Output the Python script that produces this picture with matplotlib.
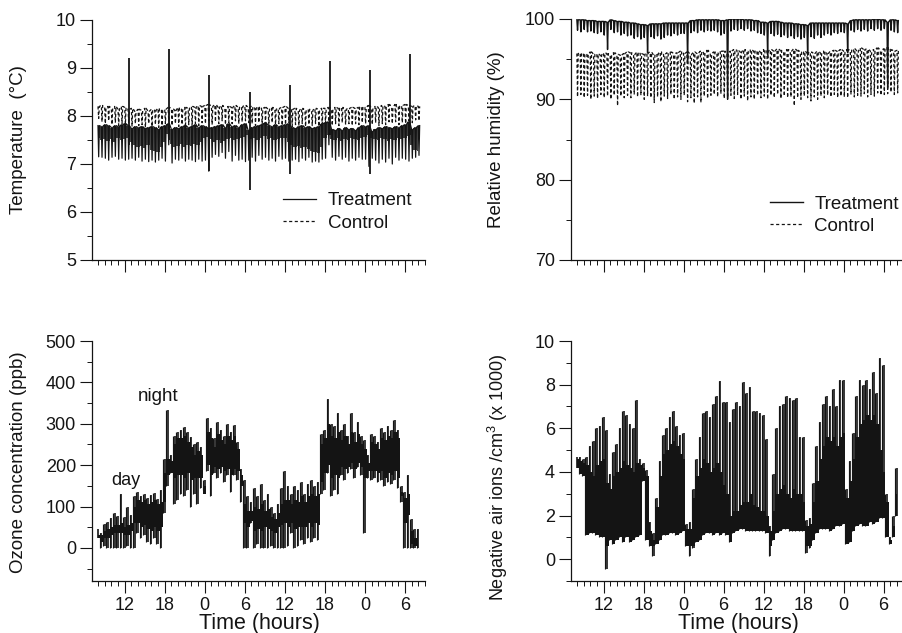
# Four panel time series: temperature, humidity, ozone and negative air ions.
# Values every half hour, as upper and lower edges.

import numpy as np
import matplotlib
matplotlib.use("Agg")
import matplotlib.pyplot as plt
from matplotlib.ticker import MultipleLocator, FixedLocator, NullFormatter

plt.rcParams["font.family"] = ["Liberation Sans", "DejaVu Sans"]
plt.rcParams["mathtext.default"] = "regular"

INK = "#141414"

hours = np.arange(8, 56.5, 0.5)
hour_ticks = [12, 18, 24, 30, 36, 42, 48, 54]
hour_labels = ["12", "18", "0", "6", "12", "18", "0", "6"]

# Temperature, treatment
temp_treat_hi = [
    7.80, 7.78, 7.82, 7.80, 7.76, 7.80, 7.78, 7.82,
    7.84, 7.80, 7.74, 7.78, 7.76, 7.78, 7.74, 7.76, 7.78, 7.76, 7.72, 7.78,
    7.80, 7.84, 7.72, 7.76, 7.74, 7.78, 7.80, 7.76, 7.78, 7.82, 7.76, 7.80,
    7.78, 7.74, 7.76, 7.78, 7.80, 7.82, 7.76, 7.84, 7.78, 7.80, 7.76, 7.82,
    7.84, 7.70, 7.76, 7.78, 7.80, 7.82, 7.86, 7.80, 7.78, 7.82, 7.78, 7.80,
    7.82, 7.84, 7.76, 7.74, 7.78, 7.80, 7.76, 7.78, 7.74, 7.76, 7.78, 7.84,
    7.86, 7.88, 7.72, 7.70, 7.74, 7.70, 7.76, 7.72, 7.74, 7.70, 7.76, 7.80,
    7.78, 7.80, 7.68, 7.72, 7.76, 7.74, 7.78, 7.76, 7.74, 7.78, 7.76, 7.80,
    7.82, 7.88, 7.72, 7.76, 7.80]
temp_treat_core = [
    7.55, 7.50, 7.52, 7.48, 7.52, 7.46, 7.54, 7.50,
    7.52, 7.54, 7.46, 7.40, 7.35, 7.38, 7.34, 7.40, 7.30, 7.28, 7.25, 7.35,
    7.45, 7.62, 7.42, 7.35, 7.38, 7.42, 7.36, 7.40, 7.38, 7.42, 7.40, 7.45,
    7.54, 7.56, 7.52, 7.46, 7.50, 7.44, 7.48, 7.52, 7.54, 7.50, 7.52, 7.54,
    7.56, 7.60, 7.52, 7.54, 7.50, 7.54, 7.58, 7.52, 7.54, 7.50, 7.52, 7.54,
    7.54, 7.46, 7.40, 7.36, 7.38, 7.34, 7.36, 7.32, 7.28, 7.26, 7.22, 7.35,
    7.54, 7.60, 7.52, 7.50, 7.54, 7.48, 7.52, 7.50, 7.54, 7.52, 7.50, 7.54,
    7.56, 7.60, 7.54, 7.52, 7.50, 7.54, 7.52, 7.48, 7.52, 7.50, 7.54, 7.52,
    7.54, 7.58, 7.40, 7.30, 7.28]
temp_treat_lo = [
    7.15, 7.14, 7.12, 7.08, 7.14, 7.16, 7.10, 7.12,
    7.08, 7.10, 7.12, 7.08, 7.14, 7.06, 7.10, 7.05, 7.08, 7.04, 7.08, 7.12,
    7.06, 7.40, 7.02, 7.10, 7.08, 7.12, 7.06, 7.10, 7.08, 7.05, 7.10, 7.06,
    7.08, 6.85, 7.14, 7.20, 7.16, 7.24, 7.12, 7.26, 7.06, 7.18, 7.08, 7.10,
    7.05, 7.08, 7.14, 7.06, 7.18, 7.10, 7.14, 7.08, 7.12, 7.06, 7.16, 7.10,
    7.12, 7.06, 7.08, 7.10, 7.05, 7.12, 7.08, 7.14, 7.04, 7.06, 7.04, 7.10,
    7.12, 7.40, 7.14, 7.08, 7.16, 7.10, 7.14, 7.06, 7.12, 7.08, 7.14, 7.10,
    7.10, 6.95, 7.12, 7.08, 7.02, 7.10, 7.04, 7.12, 7.00, 7.14, 7.08, 7.12,
    7.10, 7.06, 7.12, 7.14, 7.18]
temp_spike_t = [12.7, 18.7, 24.65, 30.75, 36.75, 42.8, 48.7, 54.7]
temp_spike_hi = [9.2, 9.4, 8.85, 8.5, 8.65, 9.15, 8.95, 9.3]
temp_spike_lo = [7.4, 7.5, 6.85, 6.45, 6.8, 7.6, 6.8, 7.6]

# Temperature, control
temp_ctrl_hi = [
    8.20, 8.22, 8.18, 8.20, 8.16, 8.20, 8.14, 8.20,
    8.18, 8.14, 8.16, 8.10, 8.14, 8.12, 8.16, 8.10, 8.14, 8.12, 8.16, 8.12,
    8.14, 8.18, 8.16, 8.12, 8.18, 8.14, 8.18, 8.16, 8.20, 8.18, 8.22, 8.20,
    8.22, 8.24, 8.20, 8.24, 8.18, 8.22, 8.16, 8.20, 8.18, 8.22, 8.18, 8.20,
    8.22, 8.18, 8.20, 8.16, 8.20, 8.16, 8.18, 8.14, 8.18, 8.14, 8.16, 8.18,
    8.20, 8.16, 8.14, 8.16, 8.12, 8.16, 8.12, 8.14, 8.12, 8.16, 8.14, 8.16,
    8.16, 8.18, 8.14, 8.18, 8.16, 8.18, 8.14, 8.16, 8.18, 8.16, 8.18, 8.20,
    8.18, 8.22, 8.16, 8.20, 8.18, 8.22, 8.20, 8.24, 8.18, 8.24, 8.20, 8.22,
    8.24, 8.22, 8.20, 8.22, 8.20]
temp_ctrl_lo = [
    7.95, 7.88, 7.84, 7.90, 7.82, 7.86, 7.80, 7.84,
    7.82, 7.86, 7.78, 7.84, 7.80, 7.82, 7.76, 7.84, 7.78, 7.82, 7.76, 7.80,
    7.84, 7.90, 7.80, 7.84, 7.78, 7.82, 7.76, 7.82, 7.78, 7.84, 7.80, 7.86,
    7.84, 7.90, 7.82, 7.88, 7.84, 7.90, 7.82, 7.86, 7.84, 7.90, 7.84, 7.88,
    7.90, 7.86, 7.84, 7.80, 7.86, 7.82, 7.84, 7.80, 7.86, 7.82, 7.84, 7.80,
    7.82, 7.86, 7.78, 7.82, 7.80, 7.84, 7.78, 7.82, 7.80, 7.84, 7.78, 7.82,
    7.84, 7.88, 7.80, 7.84, 7.80, 7.86, 7.82, 7.84, 7.80, 7.84, 7.82, 7.86,
    7.84, 7.88, 7.82, 7.86, 7.80, 7.84, 7.82, 7.88, 7.84, 7.88, 7.82, 7.86,
    7.84, 7.90, 7.86, 7.92, 7.90]

# Relative humidity, treatment
rh_treat_hi = [
    99.9, 99.9, 99.9, 99.8, 99.8, 99.8, 99.7, 99.7,
    99.7, 99.6, 99.9, 99.8, 99.7, 99.7, 99.6, 99.6, 99.5, 99.5, 99.4, 99.3,
    99.3, 99.2, 99.4, 99.4, 99.4, 99.4, 99.5, 99.5, 99.5, 99.5, 99.5, 99.5,
    99.5, 99.5, 99.8, 99.8, 99.9, 99.9, 99.9, 99.9, 99.9, 99.9, 99.9, 99.8,
    99.8, 99.9, 100.0, 100.0, 100.0, 100.0, 99.9, 99.9, 99.9, 99.8, 99.8, 99.6,
    99.6, 99.5, 99.7, 99.7, 99.7, 99.6, 99.5, 99.5, 99.5, 99.4, 99.4, 99.3,
    99.3, 99.2, 99.5, 99.5, 99.5, 99.5, 99.5, 99.5, 99.5, 99.5, 99.5, 99.5,
    99.5, 99.4, 99.8, 99.9, 99.9, 99.9, 99.9, 99.9, 99.9, 100.0, 100.0, 99.9,
    99.9, 99.6, 99.9, 99.9, 99.8]
rh_treat_lo = [
    98.6, 98.4, 98.7, 98.4, 98.5, 98.3, 98.2, 98.4,
    98.0, 96.2, 98.7, 98.3, 98.4, 98.0, 98.2, 97.9, 98.0, 97.6, 97.8, 97.5,
    97.7, 95.8, 97.8, 97.6, 97.9, 97.5, 97.7, 98.0, 97.9, 98.2, 98.0, 98.2,
    98.2, 94.8, 98.3, 98.5, 98.3, 98.6, 98.4, 98.6, 98.5, 98.6, 98.4, 98.0,
    98.2, 90.0, 98.5, 98.7, 98.6, 98.8, 98.6, 98.8, 98.5, 98.6, 98.3, 98.2,
    98.0, 95.5, 98.2, 97.9, 98.1, 97.8, 98.0, 97.7, 97.9, 97.6, 97.8, 97.5,
    97.7, 95.5, 97.8, 97.6, 98.0, 97.7, 98.0, 98.2, 98.0, 98.3, 98.2, 98.4,
    98.3, 95.8, 98.6, 98.4, 98.7, 98.5, 98.7, 98.5, 98.8, 98.6, 98.8, 98.6,
    98.8, 91.5, 98.6, 98.4, 98.3]

# Relative humidity, control
rh_ctrl_hi = [
    95.7, 95.8, 95.6, 95.7, 95.9, 95.6, 95.7, 95.5,
    95.8, 95.7, 95.5, 95.8, 95.6, 95.5, 95.7, 95.9, 95.8, 95.6, 95.9, 95.7,
    95.6, 95.8, 95.9, 95.5, 95.7, 95.9, 95.6, 95.8, 95.9, 95.7, 95.8, 96.0,
    95.7, 95.9, 95.6, 95.9, 95.7, 96.0, 95.8, 96.1, 95.7, 95.9, 95.8, 96.0,
    96.0, 95.8, 96.0, 96.2, 96.1, 95.9, 96.2, 96.0, 96.2, 96.0, 96.1, 95.9,
    96.2, 96.0, 96.2, 96.0, 96.3, 96.1, 95.9, 96.2, 96.0, 96.3, 96.1, 95.9,
    96.0, 95.8, 95.9, 95.7, 96.0, 95.8, 96.0, 95.7, 96.0, 96.1, 96.0, 96.2,
    96.0, 96.2, 96.1, 96.3, 96.0, 96.4, 96.2, 96.3, 96.0, 96.2, 96.4, 96.1,
    96.3, 96.5, 96.2, 96.0, 96.1]
rh_ctrl_lo = [
    90.3, 90.6, 90.2, 90.5, 90.0, 90.4, 90.1, 90.6,
    90.2, 90.4, 90.0, 90.5, 89.2, 90.4, 90.2, 90.5, 90.2, 90.6, 90.3, 90.5,
    90.0, 90.4, 90.2, 89.6, 90.3, 89.7, 90.4, 90.1, 90.6, 90.0, 90.3, 90.0,
    90.5, 89.7, 90.2, 89.5, 90.3, 89.6, 90.4, 90.1, 90.5, 90.6, 90.3, 90.7,
    90.1, 90.2, 90.5, 90.1, 90.6, 90.0, 90.4, 89.8, 90.3, 90.0, 90.5, 90.2,
    90.4, 90.0, 90.5, 90.2, 90.6, 90.1, 90.4, 90.2, 90.3, 89.2, 90.2, 90.0,
    90.4, 90.2, 89.8, 90.3, 90.0, 90.4, 90.2, 90.5, 90.3, 90.6, 90.2, 90.4,
    90.3, 90.2, 90.6, 90.3, 90.5, 90.4, 90.7, 90.3, 90.6, 90.4, 90.8, 90.5,
    90.6, 90.7, 90.9, 90.6, 90.8]

# Ozone concentration, outer edges and the solid band inside them
ozone_hi = [
    45, 35, 58, 62, 72, 85, 78, 130,
    75, 100, 80, 125, 135, 125, 130, 120, 128, 132, 118, 140,
    215, 333, 225, 270, 280, 285, 292, 280, 268, 250, 255, 245,
    140, 315, 290, 265, 305, 285, 270, 300, 280, 298, 255, 190,
    165, 125, 110, 145, 125, 155, 115, 130, 100, 85, 105, 145,
    185, 150, 130, 150, 140, 160, 130, 155, 165, 150, 160, 275,
    285, 360, 300, 295, 325, 285, 300, 270, 325, 280, 305, 270,
    260, 225, 275, 270, 255, 290, 280, 295, 285, 310, 285, 150,
    135, 175, 70, 45, 45]
ozone_lo = [
    25, 0, 5, 0, 0, 0, 0, 0,
    0, 5, 0, 0, 35, 25, 30, 15, 10, 25, 10, 0,
    85, 150, 180, 105, 115, 130, 125, 140, 100, 130, 105, 145,
    165, 185, 125, 180, 170, 180, 160, 175, 135, 175, 165, 110,
    0, 0, 60, 0, 10, 0, 0, 0, 5, 0, 0, 0,
    0, 5, 35, 0, 5, 20, 10, 25, 15, 25, 20, 130,
    140, 180, 125, 140, 130, 175, 165, 180, 190, 170, 195, 175,
    35, 170, 165, 170, 160, 165, 150, 160, 155, 165, 145, 110,
    0, 0, 0, 0, 0]
ozone_band_hi = [
    30, 30, 40, 45, 50, 55, 55, 60,
    50, 55, 60, 100, 115, 110, 115, 105, 110, 115, 105, 110,
    180, 215, 210, 250, 265, 265, 270, 255, 245, 225, 235, 225,
    130, 280, 265, 245, 275, 260, 250, 270, 260, 270, 240, 175,
    105, 90, 90, 100, 95, 105, 90, 95, 75, 70, 85, 105,
    115, 115, 105, 115, 110, 125, 110, 125, 130, 125, 130, 250,
    265, 300, 270, 265, 280, 260, 270, 250, 280, 255, 275, 250,
    240, 205, 255, 250, 240, 265, 260, 270, 265, 280, 265, 135,
    120, 130, 40, 25, 30]
ozone_band_lo = [
    25, 15, 25, 25, 30, 35, 35, 35,
    30, 30, 40, 60, 60, 50, 55, 45, 40, 50, 40, 50,
    110, 175, 180, 170, 175, 175, 170, 180, 165, 170, 170, 170,
    150, 200, 175, 195, 190, 195, 185, 190, 175, 190, 185, 150,
    60, 50, 65, 40, 45, 40, 50, 45, 40, 35, 50, 55,
    60, 50, 60, 45, 50, 50, 50, 60, 50, 60, 55, 160,
    180, 200, 170, 175, 170, 195, 190, 195, 205, 190, 205, 195,
    170, 185, 185, 185, 180, 185, 170, 180, 175, 185, 170, 125,
    60, 80, 10, 5, 10]

# Negative air ions (x 1000), outer edges and the top of the solid band
ions_hi = [
    4.7, 4.7, 4.6, 4.7, 5.2, 5.4, 6.0, 6.1,
    6.5, 5.9, 3.9, 4.9, 5.3, 6.0, 6.8, 6.6, 6.2, 6.0, 7.3, 4.6,
    4.4, 4.1, 1.7, 1.2, 2.8, 4.5, 5.7, 6.0, 6.5, 6.8, 6.1, 5.7,
    5.8, 1.6, 1.7, 3.2, 4.6, 5.6, 6.7, 6.8, 6.5, 7.1, 7.5, 8.15,
    7.2, 7.2, 6.3, 6.9, 7.2, 7.0, 8.1, 7.6, 7.9, 6.8, 6.8, 6.7,
    6.6, 5.5, 1.5, 3.9, 6.0, 7.0, 7.1, 7.5, 7.4, 7.3, 7.4, 5.6,
    5.6, 1.8, 1.9, 3.5, 5.2, 6.3, 7.1, 7.5, 7.0, 7.8, 7.0, 8.2,
    8.2, 3.2, 4.5, 5.8, 7.5, 8.2, 8.0, 8.2, 7.8, 8.6, 7.6, 9.2,
    8.9, 3.0, 1.0, 2.0, 4.2]
ions_lo = [
    4.2, 3.9, 3.8, 1.1, 1.2, 1.2, 1.1, 1.0,
    1.0, -0.45, 0.9, 0.7, 0.9, 1.0, 0.8, 1.0, 0.8, 0.9, 1.0, 1.1,
    3.6, 0.9, 0.6, 0.15, 0.7, 0.9, 1.1, 1.1, 1.2, 1.2, 1.1, 1.2,
    1.3, 0.6, 0.15, 0.5, 0.8, 0.9, 1.1, 1.2, 1.2, 1.1, 1.2, 1.1,
    1.2, 1.1, 0.8, 1.2, 1.3, 1.4, 1.4, 1.3, 1.3, 1.3, 1.3, 1.3,
    1.3, 1.2, 0.15, 0.9, 1.2, 1.3, 1.4, 1.4, 1.3, 1.3, 1.3, 1.3,
    1.3, 0.3, 0.5, 0.9, 1.2, 1.4, 1.4, 1.4, 1.3, 1.4, 1.5, 1.5,
    1.6, 0.7, 0.8, 1.3, 1.5, 1.6, 1.5, 1.5, 1.7, 1.6, 1.7, 1.9,
    1.9, 1.0, 0.7, 1.0, 2.0]
ions_band_hi = [
    4.6, 4.5, 4.4, 4.3, 4.0, 3.8, 4.3, 4.5,
    4.6, 3.5, 3.2, 3.8, 4.0, 4.2, 4.5, 4.3, 4.2, 4.0, 4.4, 4.3,
    4.2, 3.8, 1.3, 0.9, 2.4, 3.8, 4.8, 5.0, 5.3, 5.4, 5.2, 4.8,
    4.6, 1.4, 1.4, 2.8, 3.8, 4.2, 4.6, 4.4, 4.0, 4.2, 4.4, 4.0,
    3.4, 3.0, 2.0, 2.2, 2.2, 2.5, 2.6, 2.6, 3.0, 2.5, 2.4, 2.2,
    2.2, 2.0, 1.3, 2.2, 3.0, 3.2, 3.4, 3.0, 2.8, 3.2, 3.0, 3.0,
    2.6, 1.5, 1.6, 2.6, 3.6, 4.6, 5.2, 5.6, 5.4, 5.6, 5.2, 5.6,
    5.8, 2.8, 3.6, 4.6, 5.6, 6.2, 6.4, 6.6, 6.4, 6.6, 6.2, 5.0,
    4.0, 2.6, 0.9, 1.5, 3.0]

W, H = 903, 633


def make_axes(fig, left, right, top, bottom, xlim, ylim, major, minor, labels):
    ax = fig.add_axes([left / W, 1 - bottom / H, (right - left) / W, (bottom - top) / H])
    ax.patch.set_alpha(0)
    ax.set_xlim(*xlim)
    ax.set_ylim(*ylim)
    for side in ["top", "right"]:
        ax.spines[side].set_visible(False)
    for side in ["left", "bottom"]:
        ax.spines[side].set_color(INK)
        ax.spines[side].set_linewidth(0.9)
    ax.xaxis.set_major_locator(FixedLocator(hour_ticks))
    ax.xaxis.set_minor_locator(MultipleLocator(1))
    if labels:
        ax.set_xticklabels(hour_labels)
    else:
        ax.xaxis.set_major_formatter(NullFormatter())
    ax.yaxis.set_major_locator(MultipleLocator(major))
    ax.yaxis.set_minor_locator(MultipleLocator(minor))
    ax.tick_params(which="major", length=8.6, width=0.8, color=INK,
                   labelsize=13, labelcolor=INK, pad=3)
    ax.tick_params(which="minor", length=3.6, width=0.7, color=INK)
    return ax


def comb(t, hi, lo):
    # the trace runs along the upper edge and drops to the lower one each half hour
    x = np.column_stack([t, t + 0.1, t + 0.2]).ravel()
    y = np.column_stack([hi, lo, hi]).ravel()
    return x, y


def hatch(ax, t, hi, lo, lw):
    # one stroke per reading, plus a second one in between from the next reading
    ax.vlines(t, lo, hi, color=INK, lw=lw)
    ax.vlines(t[:-1] + 0.25, lo[1:], hi[1:], color=INK, lw=lw * 0.7)


def add_legend(ax, x, y):
    ax.legend(loc="upper left", bbox_to_anchor=(x, y), frameon=False, fontsize=13.5,
              borderpad=0, borderaxespad=0, handlelength=1.75, handletextpad=0.63,
              labelspacing=0.28, labelcolor=INK)


fig = plt.figure(figsize=(W / 100, H / 100), dpi=100, facecolor="white")

# Temperature
ax1 = make_axes(fig, 92, 425, 20, 260, (7.1, 57), (5, 10), 1, 0.5, False)
ax1.plot(*comb(hours, temp_treat_hi, temp_treat_lo), color=INK, lw=0.9,
         label="Treatment", zorder=3)
ax1.plot(*comb(hours, temp_ctrl_hi, temp_ctrl_lo), color=INK, lw=0.9,
         dashes=(2.5, 2), label="Control", zorder=2)
ax1.fill_between(hours, temp_treat_core, temp_treat_hi, step="mid", color=INK,
                 alpha=0.8, lw=0, zorder=3)
ax1.vlines(temp_spike_t, temp_spike_lo, temp_spike_hi, color=INK, lw=1.3, zorder=4)
add_legend(ax1, 0.574, 0.282)

# Relative humidity
ax2 = make_axes(fig, 571, 903, 19, 260, (7.12, 56.9), (70, 100), 10, 5, False)
ax2.plot(*comb(hours, rh_treat_hi, rh_treat_lo), color=INK, lw=1.0, label="Treatment", zorder=3)
ax2.plot(*comb(hours, rh_ctrl_hi, rh_ctrl_lo), color=INK, lw=0.9,
         dashes=(2.5, 2), label="Control", zorder=2)
add_legend(ax2, 0.599, 0.268)

# Ozone
ax3 = make_axes(fig, 92, 425, 341, 581, (7.1, 57), (-80, 500), 100, 50, True)
hatch(ax3, hours, np.array(ozone_hi), np.array(ozone_lo), 1.2)
ax3.fill_between(hours, ozone_band_lo, ozone_band_hi, step="mid", color=INK, lw=0)
ax3.text(12.2, 162, "day", ha="center", va="center", fontsize=13, color=INK)
ax3.text(17, 365, "night", ha="center", va="center", fontsize=13.5, color=INK)

# Negative air ions
ax4 = make_axes(fig, 571, 903, 341, 581, (7.12, 56.9), (-1, 10), 2, 1, True)
hatch(ax4, hours, np.array(ions_hi), np.array(ions_lo), 1.2)
ax4.fill_between(hours, np.clip(ions_lo, 0.6, None), ions_band_hi, step="mid", color=INK, lw=0)

# Axis titles sit at fixed places in the figure, as in the original layout
ylabels = [("Temperature  (\u00b0C)", 19, 140, 13.5), ("Relative humidity (%)", 497, 140, 13.5),
           ("Ozone concentration (ppb)", 19, 462, 13.5),
           ("Negative air ions /cm$^{3}$ (x 1000)", 498, 477, 13)]
for text, x, y, size in ylabels:
    fig.text(x / W, 1 - y / H, text, rotation=90, ha="center", va="center",
             fontsize=size, color=INK)
for x in [259, 738]:
    fig.text(x / W, 1 - 623 / H, "Time (hours)", ha="center", va="center",
             fontsize=15.5, color=INK)

fig.savefig("out.png", dpi=100, facecolor="white")
